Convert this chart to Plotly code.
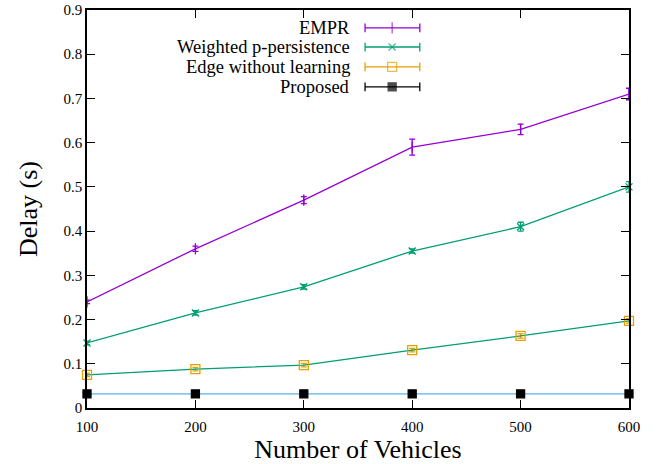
import plotly.graph_objects as go

vehicles = [100, 200, 300, 400, 500, 600]
empr = [0.24, 0.36, 0.47, 0.59, 0.63, 0.71]
empr_err = [0.004, 0.006, 0.008, 0.018, 0.012, 0.013]
weighted = [0.147, 0.215, 0.274, 0.355, 0.41, 0.50]
weighted_err = [0.004, 0.005, 0.005, 0.005, 0.010, 0.012]
edge = [0.075, 0.088, 0.097, 0.131, 0.163, 0.197]
edge_err = [0.004, 0.004, 0.004, 0.004, 0.005, 0.005]
proposed = [0.032, 0.032, 0.032, 0.032, 0.032, 0.032]
proposed_err = [0.001, 0.001, 0.001, 0.001, 0.001, 0.001]

y_ticks = [0, 0.1, 0.2, 0.3, 0.4, 0.5, 0.6, 0.7, 0.8, 0.9]
y_ticktext = ["0", "0.1", "0.2", "0.3", "0.4", "0.5", "0.6", "0.7", "0.8", "0.9"]

PURPLE = "#9400d3"
GREEN = "#009e73"
ORANGE = "#e69f00"
BLUE = "#56b4e9"
BLACK = "#000000"
FONT = "Liberation Serif"

series = [
    ("EMPR", empr, empr_err, PURPLE, PURPLE, "line-ns", PURPLE, 8),
    ("Weighted p-persistence", weighted, weighted_err, GREEN, GREEN, "x-thin", GREEN, 7),
    ("Edge without learning", edge, edge_err, GREEN, ORANGE, "square-open", ORANGE, 9),
    ("Proposed", proposed, proposed_err, BLUE, BLACK, "square", BLACK, 8),
]

fig = go.Figure()
for name, vals, errs, lcol, mcol, sym, ecol, msize in series:
    fig.add_trace(go.Scatter(
        x=vehicles, y=vals, mode="lines+markers", name=name,
        line=dict(color=lcol, width=1.3),
        marker=dict(symbol=sym, size=msize, color=mcol,
                    line=dict(color=mcol, width=1.3)),
        error_y=dict(type="data", array=errs, visible=True,
                     color=ecol, thickness=1.3, width=3),
        showlegend=False, cliponaxis=False,
    ))

# Custom legend (gnuplot style), drawn on an overlay axis in plot-fraction units
leg_x0, leg_x1, leg_xm = 0.513, 0.614, 0.563
leg_rows = [0.955, 0.907, 0.857, 0.807]
for (name, vals, errs, lcol, mcol, sym, ecol, msize), ly in zip(series, leg_rows):
    col = ecol
    fig.add_trace(go.Scatter(
        x=[leg_x0, leg_xm, leg_x1], y=[ly, ly, ly], mode="lines+markers",
        xaxis="x2", yaxis="y2",
        line=dict(color=col, width=1.3),
        marker=dict(symbol=sym, size=[0, msize, 0], color=mcol,
                    line=dict(color=mcol, width=1.3)),
        error_y=dict(type="data", array=[0.011, 0, 0.011], visible=True,
                     color=col, thickness=1.3, width=0),
        showlegend=False, hoverinfo="skip",
    ))
    fig.add_annotation(x=0.489, y=ly, xref="x2", yref="y2", text=name,
                       showarrow=False, xanchor="right", yanchor="middle",
                       font=dict(family=FONT, size=18.5, color="black"))

axis_common = dict(showline=True, linecolor="black", linewidth=1.5, mirror="ticks",
                   ticks="inside", ticklen=8, tickwidth=1.3, tickcolor="black",
                   showgrid=False, zeroline=False, automargin=False,
                   tickfont=dict(family=FONT, size=15, color="black"))

fig.update_layout(
    width=667, height=464,
    margin=dict(l=87, r=38, t=10, b=56),
    plot_bgcolor="white", paper_bgcolor="white",
    font=dict(family=FONT),
    xaxis=dict(range=[100, 600], tickvals=vehicles, ticklabelstandoff=4,
               title=dict(text="Number of Vehicles", standoff=6,
                          font=dict(family=FONT, size=26, color="black")),
               **axis_common),
    yaxis=dict(range=[0, 0.9], tickvals=y_ticks, ticktext=y_ticktext,
               title=dict(text="Delay (s)", standoff=18,
                          font=dict(family=FONT, size=26, color="black")),
               **axis_common),
    xaxis2=dict(range=[0, 1], overlaying="x", visible=False, anchor="y2"),
    yaxis2=dict(range=[0, 1], overlaying="y", visible=False, anchor="x2"),
    showlegend=False,
)

fig.write_html("out.html")
